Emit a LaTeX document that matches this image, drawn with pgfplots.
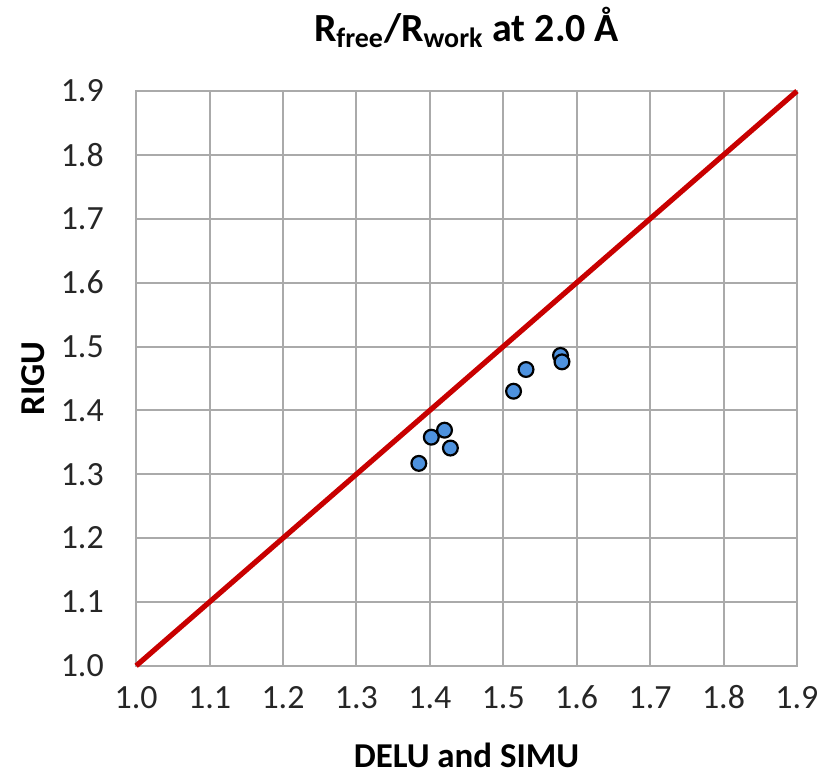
\documentclass[border=0pt]{standalone}
\usepackage{fontspec}
\setmainfont{Carlito}
\usepackage{pgfplots}
\pgfplotsset{compat=1.18}
\definecolor{gridgray}{RGB}{170,170,170}
\definecolor{diagred}{RGB}{200,0,0}
\definecolor{ptblue}{RGB}{78,146,222}
\begin{document}
\begin{tikzpicture}
\useasboundingbox (-68bp,-55.5bp) rectangle (348bp,332.5bp);
\begin{axis}[
    at={(0,0)}, anchor=south west,
    scale only axis=true,
    width=330bp, height=287bp,
    xmin=1.0, xmax=1.9, ymin=1.0, ymax=1.9,
    xtick={1.0,1.1,...,1.9}, ytick={1.0,1.1,...,1.9},
    /pgf/number format/assume math mode=true,
    /pgf/number format/fixed, /pgf/number format/fixed zerofill,
    /pgf/number format/precision=1,
    major tick length=0pt,
    grid=major,
    grid style={gridgray, line width=1bp},
    axis line style={gridgray, line width=1bp},
    tick label style={font=\fontsize{17}{20}\selectfont, text=black!85},
    xticklabel style={anchor=base, yshift=-21.5bp},
    yticklabel style={anchor=east, inner sep=0pt, xshift=-16bp},
    title={\textbf{R\textsubscript{free}/R\textsubscript{work} at 2.0 Å}},
    title style={font=\fontsize{20}{24}\selectfont, at={(axis description cs:0.5,1)}, anchor=base, yshift=19bp},
    xlabel={\textbf{DELU and SIMU}},
    ylabel={\textbf{RIGU}},
    label style={font=\fontsize{17.5}{21}\selectfont},
    xlabel style={at={(axis description cs:0.5,0)}, anchor=base, yshift=-51bp},
    ylabel style={at={(axis description cs:0,0.5)}, anchor=center, yshift=51.5bp},
    clip=false,
]
\addplot[diagred, line width=2.6bp, no marks] coordinates {(1.0,1.0) (1.9,1.9)};
\addplot[only marks, mark=*, mark size=3.7bp,
    mark options={fill=ptblue, draw=black, line width=1.1bp}] coordinates {
    (1.385,1.317)
    (1.402,1.358)
    (1.420,1.369)
    (1.428,1.341)
    (1.514,1.430)
    (1.531,1.464)
    (1.578,1.486)
    (1.580,1.476)
};
\end{axis}
\end{tikzpicture}
\end{document}
